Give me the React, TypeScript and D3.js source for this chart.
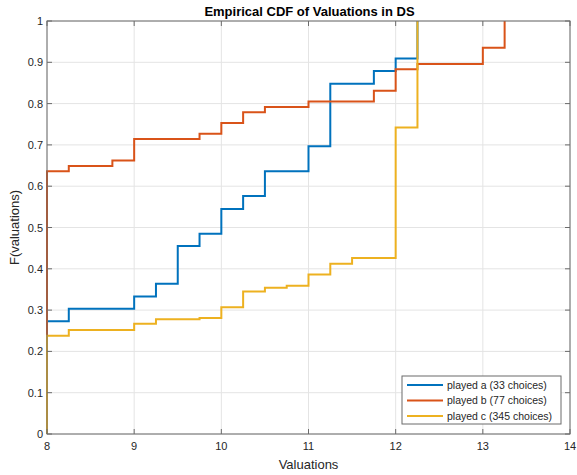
import React from "react";
import * as d3 from "d3";

const xTicks = [8, 9, 10, 11, 12, 13, 14];
const yTicks = [0, 0.1, 0.2, 0.3, 0.4, 0.5, 0.6, 0.7, 0.8, 0.9, 1];

const aX = [8, 8, 8.25, 9, 9.25, 9.5, 9.75, 10, 10.25, 10.5, 11, 11.25, 11.75, 12, 12.25];
const aF = [0, 0.273, 0.303, 0.333, 0.364, 0.455, 0.485, 0.545, 0.576, 0.636, 0.697, 0.848, 0.879, 0.909, 1];

const bX = [8, 8, 8.25, 8.75, 9, 9.75, 10, 10.25, 10.5, 11, 11.75, 12, 12.25, 13, 13.25];
const bF = [0, 0.636, 0.649, 0.662, 0.714, 0.727, 0.753, 0.779, 0.792, 0.805, 0.831, 0.883, 0.896, 0.935, 1];

const cX = [8, 8, 8.25, 9, 9.25, 9.75, 10, 10.25, 10.5, 10.75, 11, 11.25, 11.5, 12, 12.25];
const cF = [0, 0.238, 0.252, 0.267, 0.278, 0.281, 0.307, 0.345, 0.354, 0.359, 0.386, 0.412, 0.426, 0.742, 1];

const seriesNames = ["played a (33 choices)", "played b (77 choices)", "played c (345 choices)"];
const seriesColors = ["#0072BD", "#D95319", "#EDB120"];

const W = 577;
const H = 475;
const L = 47, R = 570, T = 21, B = 434;
const FONT = "'Liberation Sans', Arial, Helvetica, sans-serif";

export default function App() {
  const x = d3.scaleLinear().domain([8, 14]).range([L, R]);
  const y = d3.scaleLinear().domain([0, 1]).range([B, T]);
  const line = d3
    .line<[number, number]>()
    .x((d) => x(d[0]))
    .y((d) => y(d[1]))
    .curve(d3.curveStepAfter);
  const series = [
    { xs: aX, fs: aF },
    { xs: bX, fs: bF },
    { xs: cX, fs: cF },
  ];
  const axisColor = "#6b6b6b";
  const gridColor = "#e4e4e4";
  const textColor = "#262626";
  const tickLen = 5;

  const legX = 402, legY = 376, legW = 159, legH = 48;

  return (
    <svg
      width={W}
      height={H}
      style={{ position: "absolute", left: 0, top: 0, background: "#fff" }}
      fontFamily={FONT}
    >
      <rect x={0} y={0} width={W} height={H} fill="#fff" />
      {/* grid */}
      {xTicks.map((t) => (
        <line key={"gx" + t} x1={x(t)} x2={x(t)} y1={T} y2={B} stroke={gridColor} strokeWidth={1} />
      ))}
      {yTicks.map((t) => (
        <line key={"gy" + t} x1={L} x2={R} y1={y(t)} y2={y(t)} stroke={gridColor} strokeWidth={1} />
      ))}
      {/* series */}
      {series.map((s, i) => (
        <path
          key={"s" + i}
          d={line(s.xs.map((v, j) => [v, s.fs[j]] as [number, number])) || ""}
          fill="none"
          stroke={seriesColors[i]}
          strokeWidth={2}
        />
      ))}
      {/* box */}
      <rect x={L} y={T} width={R - L} height={B - T} fill="none" stroke={axisColor} strokeWidth={1} />
      {/* ticks */}
      {xTicks.map((t) => (
        <g key={"tx" + t}>
          <line x1={x(t)} x2={x(t)} y1={B} y2={B - tickLen} stroke={axisColor} />
          <line x1={x(t)} x2={x(t)} y1={T} y2={T + tickLen} stroke={axisColor} />
          <text x={x(t)} y={B + 16} textAnchor="middle" fontSize={11} fill={textColor}>
            {t}
          </text>
        </g>
      ))}
      {yTicks.map((t) => (
        <g key={"ty" + t}>
          <line x1={L} x2={L + tickLen} y1={y(t)} y2={y(t)} stroke={axisColor} />
          <line x1={R} x2={R - tickLen} y1={y(t)} y2={y(t)} stroke={axisColor} />
          <text x={L - 4} y={y(t) + 4} textAnchor="end" fontSize={11} fill={textColor}>
            {t}
          </text>
        </g>
      ))}
      {/* title & labels */}
      <text x={(L + R) / 2 + 1} y={16} textAnchor="middle" fontSize={13} fontWeight="bold" fill="#000">
        Empirical CDF of Valuations in DS
      </text>
      <text x={(L + R) / 2} y={469} textAnchor="middle" fontSize={13} fill={textColor}>
        Valuations
      </text>
      <text
        transform={`translate(19, ${(T + B) / 2}) rotate(-90)`}
        textAnchor="middle"
        fontSize={13}
        fill={textColor}
      >
        F(valuations)
      </text>
      {/* legend */}
      <rect x={legX} y={legY} width={legW} height={legH} fill="#fff" stroke={axisColor} strokeWidth={1} />
      {seriesNames.map((n, i) => (
        <g key={"l" + i}>
          <line
            x1={legX + 5}
            x2={legX + 41}
            y1={legY + 9 + i * 15.5}
            y2={legY + 9 + i * 15.5}
            stroke={seriesColors[i]}
            strokeWidth={2}
          />
          <text x={legX + 45} y={legY + 12.5 + i * 15.5} fontSize={10.5} fill={textColor}>
            {n}
          </text>
        </g>
      ))}
    </svg>
  );
}
